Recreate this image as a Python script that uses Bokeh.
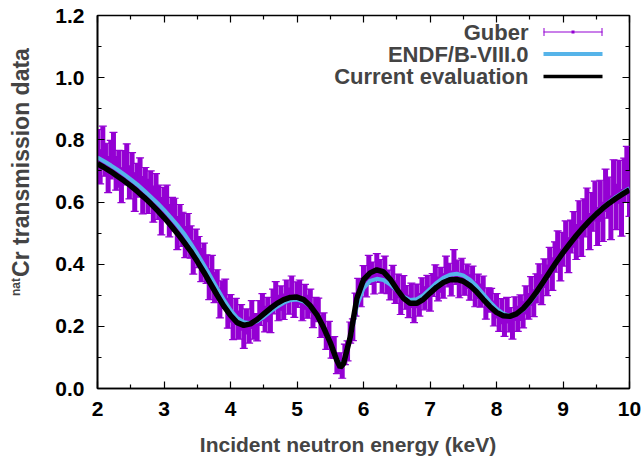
import numpy as np
from bokeh.plotting import figure
from bokeh.layouts import column, row
from bokeh.models import (ColumnDataSource, Whisker, TeeHead, Label, BoxAnnotation,
                          LinearAxis, FixedTicker, Range1d, NumeralTickFormatter)
from bokeh.embed import file_html
from bokeh.resources import INLINE

FONT = "Liberation Sans"

# ---------------- data ----------------
curve_energy = [2.0, 2.1, 2.2, 2.3, 2.4, 2.5, 2.6, 2.7, 2.8, 2.9,
                3.0, 3.1, 3.2, 3.3, 3.4, 3.5, 3.6, 3.7, 3.8, 3.9,
                4.0, 4.1, 4.2, 4.3, 4.4, 4.5, 4.6, 4.7, 4.8, 4.9,
                5.0, 5.1, 5.2, 5.3, 5.4, 5.5, 5.6, 5.65, 5.7, 5.8, 5.9,
                6.0, 6.1, 6.2, 6.3, 6.4, 6.5, 6.6, 6.7, 6.8, 6.9,
                7.0, 7.1, 7.2, 7.3, 7.4, 7.5, 7.6, 7.7, 7.8, 7.9,
                8.0, 8.1, 8.2, 8.3, 8.4, 8.5, 8.6, 8.7, 8.8, 8.9,
                9.0, 9.1, 9.2, 9.3, 9.4, 9.5, 9.6, 9.7, 9.8, 9.9, 10.0]

current_eval = [0.723, 0.711, 0.698, 0.683, 0.668, 0.652, 0.634, 0.615, 0.595, 0.573,
                0.550, 0.525, 0.499, 0.471, 0.442, 0.409, 0.374, 0.337, 0.300, 0.265,
                0.235, 0.212, 0.203, 0.208, 0.222, 0.240, 0.258, 0.274, 0.286, 0.293,
                0.294, 0.286, 0.266, 0.237, 0.196, 0.148, 0.090, 0.068, 0.080, 0.165, 0.290,
                0.350, 0.372, 0.382, 0.375, 0.352, 0.320, 0.291, 0.274, 0.274, 0.287,
                0.307, 0.326, 0.341, 0.350, 0.351, 0.345, 0.331, 0.311, 0.287, 0.264,
                0.245, 0.234, 0.232, 0.240, 0.257, 0.281, 0.310, 0.342, 0.375, 0.407,
                0.437, 0.465, 0.492, 0.517, 0.540, 0.561, 0.580, 0.597, 0.612, 0.626, 0.639]

endf_b8 = [0.743, 0.731, 0.718, 0.704, 0.689, 0.673, 0.656, 0.637, 0.617, 0.597,
           0.575, 0.551, 0.526, 0.499, 0.467, 0.433, 0.397, 0.360, 0.322, 0.285,
           0.252, 0.227, 0.213, 0.210, 0.216, 0.230, 0.247, 0.263, 0.276, 0.284,
           0.286, 0.280, 0.263, 0.236, 0.198, 0.150, 0.095, 0.075, 0.084, 0.160, 0.265,
           0.322, 0.346, 0.353, 0.349, 0.335, 0.315, 0.296, 0.285, 0.287, 0.300,
           0.320, 0.340, 0.356, 0.366, 0.369, 0.364, 0.350, 0.329, 0.304, 0.279,
           0.257, 0.241, 0.234, 0.239, 0.253, 0.276, 0.305, 0.338, 0.372, 0.405,
           0.436, 0.465, 0.492, 0.518, 0.542, 0.564, 0.583, 0.601, 0.617, 0.631, 0.644]

# Guber measured transmission (2.00 .. 10.00 keV, 0.04 keV spacing)
guber_energy = np.linspace(2.0, 10.0, 201)
guber_trans = [
    0.773, 0.713, 0.778, 0.736, 0.688, 0.736, 0.752, 0.692, 0.707, 0.654,
    0.710, 0.727, 0.663, 0.701, 0.632, 0.670, 0.686, 0.622, 0.659, 0.618,
    0.646, 0.593, 0.641, 0.599, 0.554, 0.594, 0.598, 0.540, 0.561, 0.562,
    0.500, 0.544, 0.512, 0.471, 0.516, 0.471, 0.422, 0.465, 0.439, 0.397,
    0.420, 0.384, 0.336, 0.381, 0.325, 0.337, 0.275, 0.302, 0.306, 0.242,
    0.258, 0.203, 0.248, 0.204, 0.229, 0.172, 0.216, 0.188, 0.238, 0.200,
    0.195, 0.243, 0.262, 0.223, 0.254, 0.222, 0.280, 0.301, 0.259, 0.291,
    0.263, 0.311, 0.281, 0.322, 0.266, 0.302, 0.310, 0.256, 0.295, 0.263,
    0.282, 0.232, 0.254, 0.254, 0.199, 0.206, 0.160, 0.180, 0.131, 0.132,
    0.080, 0.084, 0.063, 0.110, 0.121, 0.180, 0.189, 0.270, 0.316, 0.300,
    0.357, 0.332, 0.389, 0.371, 0.342, 0.394, 0.378, 0.346, 0.390, 0.343,
    0.322, 0.357, 0.310, 0.330, 0.275, 0.323, 0.293, 0.264, 0.300, 0.249,
    0.298, 0.269, 0.317, 0.290, 0.326, 0.289, 0.333, 0.359, 0.320, 0.350,
    0.330, 0.385, 0.365, 0.338, 0.405, 0.374, 0.333, 0.381, 0.340, 0.361,
    0.325, 0.356, 0.303, 0.329, 0.299, 0.322, 0.261, 0.285, 0.285, 0.241,
    0.266, 0.221, 0.249, 0.206, 0.252, 0.221, 0.201, 0.257, 0.224, 0.260,
    0.237, 0.285, 0.264, 0.314, 0.274, 0.322, 0.356, 0.318, 0.371, 0.348,
    0.406, 0.368, 0.423, 0.454, 0.397, 0.448, 0.487, 0.429, 0.489, 0.512,
    0.471, 0.544, 0.482, 0.549, 0.582, 0.505, 0.568, 0.603, 0.521, 0.604,
    0.536, 0.638, 0.614, 0.549, 0.669, 0.584, 0.665, 0.565, 0.670, 0.701, 0.626]
guber_err = [
    0.060, 0.055, 0.066, 0.053, 0.058, 0.062, 0.072, 0.054, 0.059, 0.056,
    0.055, 0.060, 0.053, 0.058, 0.062, 0.054, 0.056, 0.060, 0.052, 0.055,
    0.054, 0.058, 0.050, 0.055, 0.060, 0.053, 0.056, 0.052, 0.054, 0.050,
    0.053, 0.048, 0.055, 0.050, 0.047, 0.052, 0.054, 0.048, 0.050, 0.053,
    0.048, 0.046, 0.050, 0.047, 0.049, 0.045, 0.048, 0.044, 0.046, 0.048,
    0.044, 0.046, 0.042, 0.045, 0.041, 0.043, 0.040, 0.042, 0.045, 0.041,
    0.042, 0.040, 0.043, 0.041, 0.039, 0.042, 0.040, 0.043, 0.041, 0.039,
    0.041, 0.038, 0.042, 0.040, 0.037, 0.041, 0.039, 0.038, 0.040, 0.037,
    0.038, 0.036, 0.039, 0.037, 0.035, 0.037, 0.034, 0.036, 0.033, 0.035,
    0.032, 0.031, 0.030, 0.033, 0.032, 0.034, 0.035, 0.037, 0.038, 0.037,
    0.038, 0.037, 0.039, 0.036, 0.038, 0.040, 0.037, 0.039, 0.036, 0.038,
    0.037, 0.039, 0.036, 0.038, 0.037, 0.040, 0.038, 0.036, 0.039, 0.037,
    0.038, 0.036, 0.039, 0.037, 0.038, 0.040, 0.037, 0.039, 0.038, 0.040,
    0.039, 0.041, 0.038, 0.040, 0.042, 0.039, 0.041, 0.038, 0.040, 0.039,
    0.041, 0.038, 0.040, 0.039, 0.037, 0.040, 0.038, 0.039, 0.037, 0.040,
    0.039, 0.037, 0.040, 0.038, 0.041, 0.039, 0.042, 0.038, 0.040, 0.041,
    0.042, 0.045, 0.041, 0.046, 0.043, 0.047, 0.045, 0.048, 0.046, 0.049,
    0.048, 0.052, 0.049, 0.053, 0.051, 0.054, 0.052, 0.056, 0.053, 0.057,
    0.056, 0.060, 0.057, 0.061, 0.063, 0.058, 0.062, 0.064, 0.061, 0.066,
    0.063, 0.068, 0.066, 0.070, 0.067, 0.073, 0.069, 0.075, 0.071, 0.078, 0.072]

x_ticks = [2, 3, 4, 5, 6, 7, 8, 9, 10]
x_minor = [2.5, 3.5, 4.5, 5.5, 6.5, 7.5, 8.5, 9.5]
y_ticks = [0.0, 0.2, 0.4, 0.6, 0.8, 1.0, 1.2]
y_minor = [0.1, 0.3, 0.5, 0.7, 0.9, 1.1]
legend_labels = ["Guber", "ENDF/B-VIII.0", "Current evaluation"]
x_title = "Incident neutron energy (keV)"
y_title_sup = "nat"
y_title = "Cr transmission data"

PURPLE = "#9400D3"
BLUE = "#56B4E9"

STRIP_W = 50

# ---------------- main figure ----------------
p = figure(width=643 - STRIP_W, height=420, output_backend="svg", toolbar_location=None,
           x_range=Range1d(2, 10), y_range=Range1d(0, 1.2),
           min_border_left=97 - STRIP_W, min_border_right=14, min_border_top=15,
           min_border_bottom=32)
p.background_fill_color = "white"
p.border_fill_color = "white"
p.outline_line_color = "black"
p.outline_line_width = 1.6
p.xgrid.visible = False
p.ygrid.visible = False

g_y = np.array(guber_trans)
g_e = np.array(guber_err)
gsrc = ColumnDataSource(dict(x=guber_energy, y=g_y, lo=g_y - g_e, hi=g_y + g_e))

p.segment(x0="x", y0="lo", x1="x", y1="hi", source=gsrc, line_color=PURPLE, line_width=5)
w = Whisker(base="x", lower="lo", upper="hi", source=gsrc, line_color=PURPLE, line_width=1.0,
            lower_head=TeeHead(size=8, line_color=PURPLE, line_width=1.2),
            upper_head=TeeHead(size=8, line_color=PURPLE, line_width=1.2))
p.add_layout(w)

p.line(curve_energy, endf_b8, line_color=BLUE, line_width=4)
p.line(curve_energy, current_eval, line_color="black", line_width=5.5)

def style_axis(ax):
    ax.axis_line_width = 1.6
    ax.axis_line_color = "black"
    ax.major_tick_in = 7
    ax.major_tick_out = 0
    ax.minor_tick_in = 4
    ax.minor_tick_out = 0
    ax.major_tick_line_width = 1.2
    ax.minor_tick_line_width = 1.2
    ax.major_label_text_font = FONT
    ax.major_label_text_font_style = "bold"
    ax.major_label_text_font_size = "21px"
    ax.major_label_text_color = "black"
    ax.major_label_standoff = 13

p.xaxis.ticker = FixedTicker(ticks=x_ticks, minor_ticks=x_minor)
p.yaxis.ticker = FixedTicker(ticks=y_ticks, minor_ticks=y_minor)
p.yaxis.formatter = NumeralTickFormatter(format="0.0")
p.xaxis.formatter = NumeralTickFormatter(format="0")
style_axis(p.xaxis[0])
style_axis(p.yaxis[0])

def mirror(side, positions, length):
    ax = LinearAxis(ticker=FixedTicker(ticks=[], minor_ticks=positions))
    ax.axis_line_alpha = 0
    ax.major_tick_in = 0
    ax.major_tick_out = 0
    ax.minor_tick_in = length
    ax.minor_tick_out = 0
    ax.minor_tick_line_width = 1.2
    ax.major_label_standoff = 0
    p.add_layout(ax, side)

mirror("above", x_ticks, 7)
mirror("above", x_minor, 4)
mirror("right", y_ticks, 7)
mirror("right", y_minor, 4)

# legend (text right-aligned, samples to the right)
row_y = [356.5, 334.5, 312.0]
for lab, yy in zip(legend_labels, row_y):
    p.add_layout(Label(x=431, y=yy, x_units="screen", y_units="screen", text=lab,
                       text_align="right", text_baseline="middle",
                       text_font=FONT, text_font_style="bold", text_font_size="22px"))

def sbox(l, r, b, t, color):
    return BoxAnnotation(left=l, right=r, bottom=b, top=t, left_units="screen",
                         right_units="screen", bottom_units="screen", top_units="screen",
                         fill_color=color, fill_alpha=1.0, line_alpha=0)

s0, s1 = 446, 505
p.add_layout(sbox(s0, s1, row_y[0] - 0.5, row_y[0] + 0.5, PURPLE))
p.add_layout(sbox(s0, s0 + 1, row_y[0] - 4, row_y[0] + 4, PURPLE))
p.add_layout(sbox(s1 - 1, s1, row_y[0] - 4, row_y[0] + 4, PURPLE))
p.add_layout(sbox((s0 + s1) / 2 - 1.5, (s0 + s1) / 2 + 1.5, row_y[0] - 1.5, row_y[0] + 1.5, PURPLE))
p.add_layout(sbox(s0, s1, row_y[1] - 2, row_y[1] + 2, BLUE))
p.add_layout(sbox(s0, s1, row_y[2] - 1.75, row_y[2] + 1.75, "black"))

# ---------------- title strips ----------------
def blank(w_, h_):
    f = figure(width=w_, height=h_, output_backend="svg", toolbar_location=None,
               x_axis_type=None, y_axis_type=None, x_range=Range1d(0, w_), y_range=Range1d(0, h_),
               min_border=0, min_border_left=0, min_border_right=0,
               min_border_top=0, min_border_bottom=0)
    f.outline_line_color = None
    f.grid.visible = False
    f.background_fill_color = "white"
    f.border_fill_color = "white"
    return f

ystrip = blank(STRIP_W, 420)
ystrip.add_layout(Label(x=20.5, y=420 - 194, x_units="screen", y_units="screen", angle=np.pi / 2,
                        text=y_title, text_align="center", text_baseline="middle",
                        text_font=FONT, text_font_style="bold", text_font_size="23px"))
ystrip.add_layout(Label(x=15.5, y=420 - 318.5, x_units="screen", y_units="screen", angle=np.pi / 2,
                        text=y_title_sup, text_align="center", text_baseline="middle",
                        text_font=FONT, text_font_style="bold", text_font_size="12px"))

xstrip = blank(643, 37)
xstrip.add_layout(Label(x=347.5, y=13, x_units="screen", y_units="screen",
                        text=x_title, text_align="center", text_baseline="alphabetic",
                        text_font=FONT, text_font_style="bold", text_font_size="21px"))

layout = column(row(ystrip, p, spacing=0), xstrip, spacing=0)
open("out.html", "w").write(file_html(layout, INLINE))
